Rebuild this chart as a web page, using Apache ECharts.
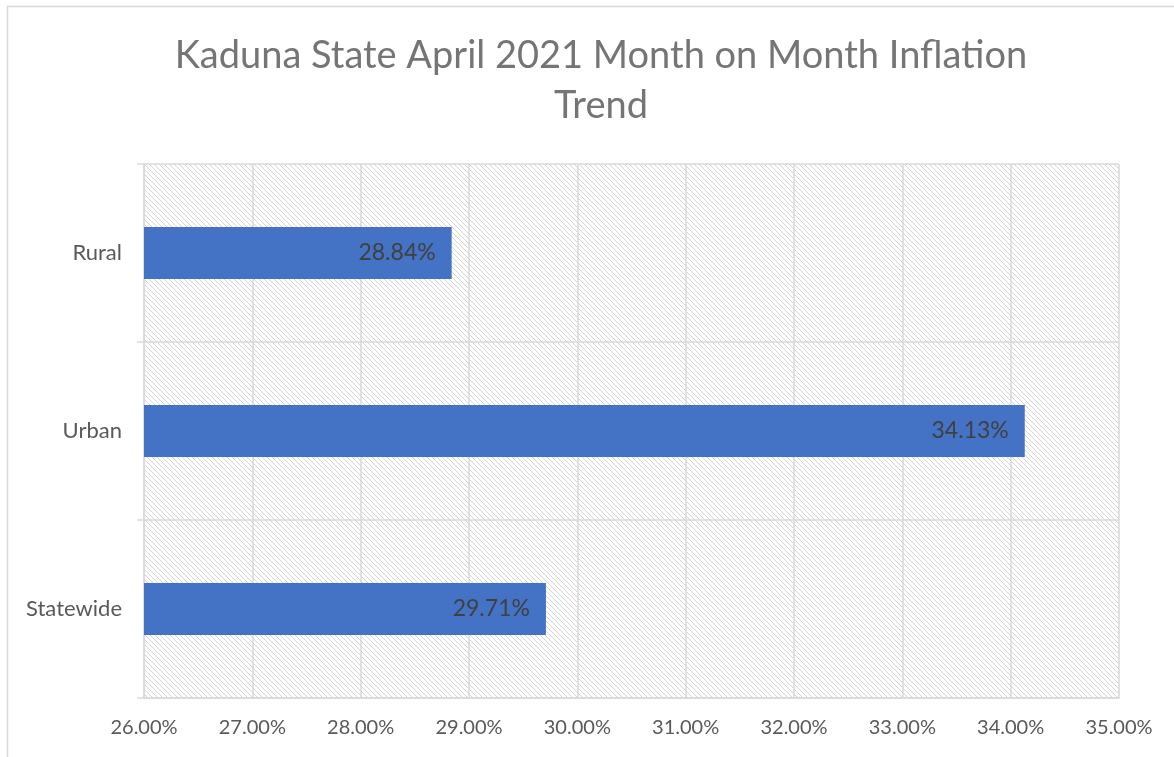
<!DOCTYPE html>
<html>
<head>
<meta charset="utf-8">
<script src="https://cdn.jsdelivr.net/npm/echarts@6/dist/echarts.min.js"></script>
<style>html,body{margin:0;padding:0;background:#fff}#c{width:1174px;height:757px}</style>
</head>
<body>
<div id="c"></div>
<script>
const titleText = 'Kaduna State April 2021 Month on Month Inflation\nTrend';
const categories = ['Rural', 'Urban', 'Statewide'];
const values = [28.84, 34.13, 29.71];
const xMin = 26, xMax = 35, xStep = 1;

function hatch() {
  const c = document.createElement('canvas');
  c.width = 5; c.height = 5;
  const g = c.getContext('2d');
  g.fillStyle = '#ffffff'; g.fillRect(0, 0, 5, 5);
  g.strokeStyle = '#d4d4d4'; g.lineWidth = 1;
  g.beginPath();
  g.moveTo(-1, -1); g.lineTo(6, 6);
  g.moveTo(-1, 4); g.lineTo(1, 6);
  g.moveTo(4, -1); g.lineTo(6, 1);
  g.stroke();
  return c;
}

const chart = echarts.init(document.getElementById('c'), null, {renderer: 'canvas'});
const font = 'Lato, "Open Sans", sans-serif';
chart.setOption({
  animation: false,
  textStyle: {fontFamily: font},
  graphic: [{
    type: 'rect', shape: {x: 7.5, y: 6.5, width: 1200, height: 800},
    style: {fill: 'none', stroke: '#d9d9d9', lineWidth: 1.5}, z: -10
  }],
  title: {
    text: titleText, left: 596, top: 26, textAlign: 'center',
    textStyle: {fontFamily: font, fontSize: 38, fontWeight: 'normal', color: '#757575', lineHeight: 50}
  },
  grid: {
    left: 144, right: 55, top: 164, bottom: 59, containLabel: false,
    show: true, backgroundColor: {image: hatch(), repeat: 'repeat'}, borderWidth: 0
  },
  xAxis: {
    type: 'value', min: xMin, max: xMax, interval: xStep,
    axisLine: {show: true, lineStyle: {color: '#d9d9d9', width: 1.5}},
    axisTick: {show: false},
    splitLine: {show: true, lineStyle: {color: '#d9d9d9', width: 1.5}},
    axisLabel: {formatter: v => v.toFixed(2) + '%', color: '#595959', fontSize: 20, margin: 20, fontFamily: font}
  },
  yAxis: {
    type: 'category', data: categories, inverse: true,
    axisLine: {show: true, lineStyle: {color: '#d9d9d9', width: 1.5}},
    axisTick: {show: true, length: 7, lineStyle: {color: '#d9d9d9', width: 1.5}},
    splitLine: {show: true, lineStyle: {color: '#d9d9d9', width: 1.5}},
    axisLabel: {color: '#595959', fontSize: 22, margin: 22, fontFamily: font}
  },
  series: [{
    type: 'bar', data: values, barWidth: 52,
    itemStyle: {color: '#4472C4'},
    label: {show: true, position: 'insideRight', distance: 16, formatter: p => p.value.toFixed(2) + '%',
      color: '#404040', fontSize: 23, fontFamily: font}
  }]
});
</script>
</body>
</html>
